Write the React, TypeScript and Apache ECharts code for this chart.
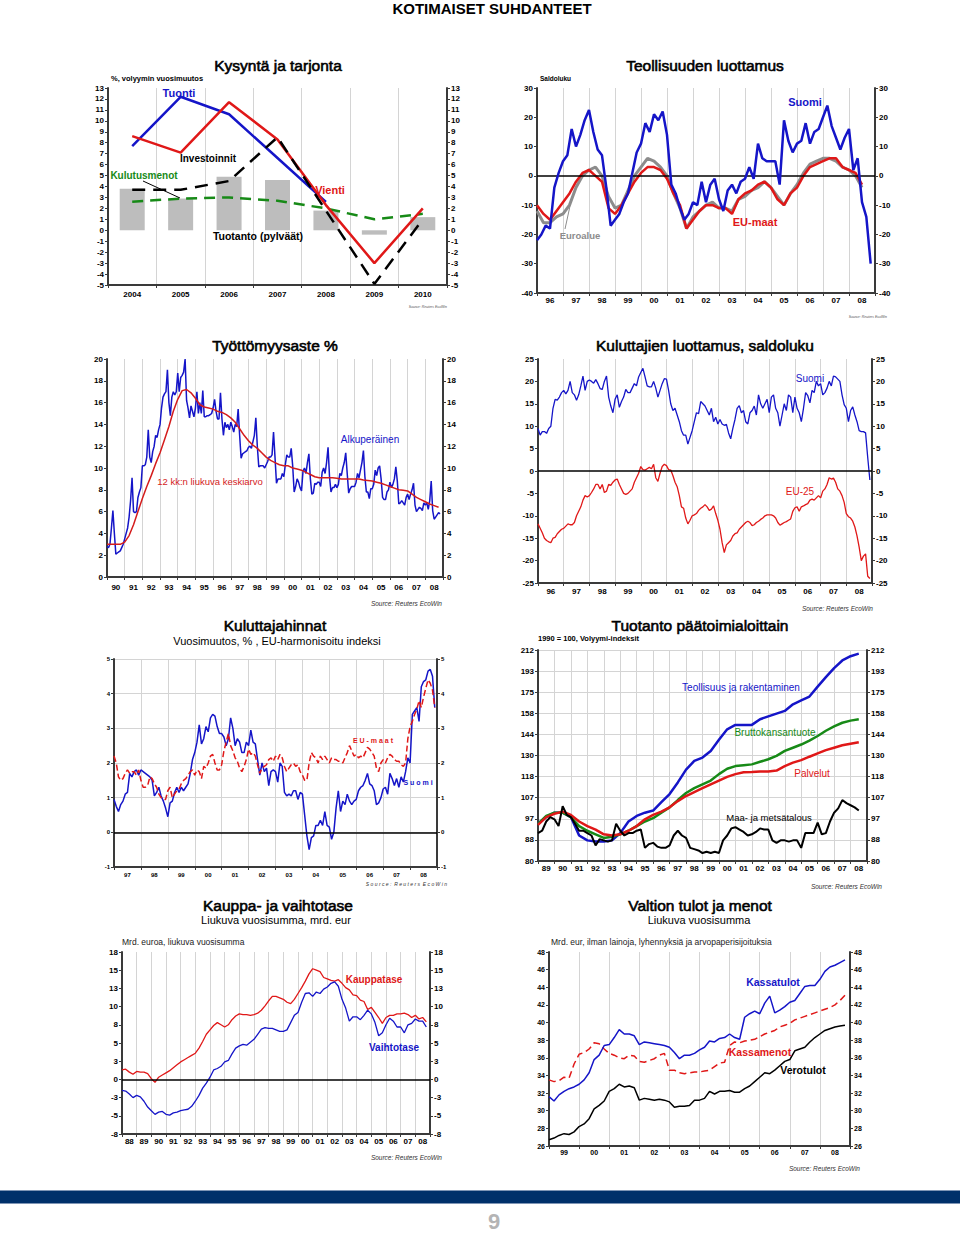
import React, { useEffect, useRef } from "react";
import * as echarts from "echarts";

const FONT = '"Liberation Sans", Arial, sans-serif';

// ---------- Panel 1: Kysyntä ja tarjonta ----------
const p1Years = ["2004", "2005", "2006", "2007", "2008", "2009", "2010"];
const p1Tuotanto = [3.8, 2.9, 4.9, 4.6, 1.8, -0.4, 1.2];
const p1Tuonti = [7.7, 12.2, 10.6, 6.6, 2.6, null, null];
const p1Vienti = [8.6, 7.1, 11.7, 8.3, 2.3, -3.0, 2.0];
const p1Investoinnit = [3.7, 3.7, 4.5, 8.5, 1.8, -4.9, 1.0];
const p1Kulutusmenot = [2.6, 2.9, 3.0, 2.7, 2.0, 1.0, 1.5];

// ---------- Panel 2: Teollisuuden luottamus (1996-, bi-monthly / quarterly) ----------
const p2Labels = ["96", "97", "98", "99", "00", "01", "02", "03", "04", "05", "06", "07", "08"];
const p2Suomi = [
  -22, -20, -17, -18, -4, 1,
  5, 7, 16, 10, 14, 19,
  22.5, 15, 9, 7, -4, -17,
  -15, -13, -9, -6, 1, 8,
  11, 18, 15, 21, 19, 22,
  14, -3, -6, -11, -15, -13,
  -9, -10, -2, -9, -3, -1,
  -8, -12, -5, -3, -6, -2,
  -1, 3, -1, 11, 6, 5,
  5, 5, -3, 19, 12, 8,
  11, 12, 18, 11, 15, 16,
  20, 24, 17, 13, 9, 13,
  16, 2, 6, -9, -14, -30,
];
const p2EU = [
  -10, -13, -15, -12,
  -9, -6, -2, 1,
  2, 0, -2, -11,
  -13, -10, -6, -2,
  1, 3, 3, 2,
  -1, -6, -10, -18,
  -15, -12, -10, -10,
  -11, -11, -13, -8,
  -6, -5, -3, -2,
  -4, -8, -10, -6,
  -4, 0, 3, 4,
  5, 6, 6, 3,
  2, 1, -3,
];
const p2Euro = [
  -12, -16, -16, -14,
  -13, -10, -4, 0,
  2, 3, 0, -7,
  -11, -10, -5, 0,
  3, 6, 5, 3,
  0, -6, -11, -18,
  -14, -12, -10, -9,
  -11, -11, -12, -8,
  -7, -5, -4, -2,
  -4, -7, -10, -6,
  -3, 1, 4, 5,
  6, 6, 5, 3,
  2, 0, -4,
];

// ---------- Panel 3: Työttömyysaste (1990-, monthly / quarterly) ----------
const p3Labels = ["90", "91", "92", "93", "94", "95", "96", "97", "98", "99", "00", "01", "02", "03", "04", "05", "06", "07", "08"];
const p3Alkup = [
  2.8, 2.7, 3.0, 4.5, 6.1, 4.0, 2.1, 2.2, 2.3, 2.4, 2.7, 3.0,
  3.5, 4.0, 4.5, 5.5, 7.0, 9.1, 6.0, 5.9, 6.0, 7.3, 7.8, 8.2,
  10.2, 10.2, 10.3, 11.0, 13.5, 11.0, 10.5, 11.5, 12.0, 13.0, 12.8, 13.5,
  14.0, 15.5, 16.5, 16.8, 17.0, 19.0, 16.0, 14.8, 16.5, 17.0, 16.7, 17.0,
  18.7, 17.0, 18.3, 18.5, 18.8, 20.0, 16.2, 15.5, 14.6, 15.7, 15.2, 14.7,
  15.5, 17.0, 15.0, 16.0, 15.0, 17.1, 14.7, 14.7, 14.8, 14.8, 14.9, 15.0,
  15.5, 16.3, 15.2, 14.5, 14.5, 16.9, 14.5, 13.0, 14.2, 13.7, 14.0, 13.5,
  14.2, 13.8, 13.3, 14.0, 13.8, 15.4, 13.0, 10.9, 11.3, 11.4, 11.5, 11.6,
  11.9, 12.0, 11.8, 12.4, 13.0, 14.6, 12.0, 10.1, 10.2, 10.2, 10.2, 10.0,
  10.3, 10.6, 11.0, 11.0, 11.2, 13.3, 11.0, 8.6, 9.0, 9.0, 9.0, 9.5,
  9.2, 10.3, 11.2, 11.0, 11.0, 11.8, 10.2, 7.8, 8.3, 9.0, 8.7, 8.2,
  7.9, 9.7, 10.0, 9.5, 10.5, 11.3, 9.0, 7.6, 7.7, 8.6, 8.5, 8.7,
  8.7, 8.3, 9.6, 10.0, 9.5, 10.5, 11.9, 9.2, 7.8, 8.2, 8.2, 8.5,
  8.2, 8.5, 9.5, 9.3, 10.0, 10.5, 11.4, 9.5, 7.7, 8.1, 8.3, 8.3,
  8.3, 8.7, 9.5, 9.1, 9.8, 10.5, 11.6, 9.2, 7.8, 7.8, 7.2, 8.1,
  8.1, 8.5, 9.8, 9.3, 10.0, 10.2, 9.0, 7.3, 7.1, 7.1, 7.8, 8.0,
  8.7, 8.2, 8.5, 9.0, 10.1, 8.8, 6.7, 6.8, 7.0, 6.8, 6.6, 7.3,
  7.6, 7.1, 7.6, 8.0, 8.6, 6.6, 6.0, 6.2, 6.4, 6.3, 6.1, 6.8,
  6.6, 6.8, 6.2, 7.0, 8.8, 6.1, 5.3, 5.5, 5.7, 5.9, 5.8,
];
const p3Keskiarvo = [
  3.0, 3.0, 3.0, 3.0,
  3.2, 3.8, 4.8, 6.0,
  7.2, 8.3, 9.3, 10.4,
  11.4, 12.6, 13.8, 15.2,
  16.3, 17.1, 17.2, 16.9,
  16.4, 15.8, 15.6, 15.5,
  15.4, 15.2, 15.1, 14.9,
  14.6, 14.2, 13.6, 13.0,
  12.5, 12.1, 11.8, 11.4,
  11.0, 10.7, 10.5, 10.3,
  10.2, 10.2, 10.0, 9.9,
  9.8, 9.6, 9.4, 9.2,
  9.1, 9.1, 9.1, 9.1,
  9.05, 9.0, 9.0, 9.0,
  9.0, 9.0, 8.9, 8.85,
  8.8, 8.7, 8.6, 8.45,
  8.3, 8.15, 8.0, 7.95,
  7.9, 7.6, 7.3, 7.1,
  6.9, 6.7, 6.55, 6.4,
];

// ---------- Panel 4: Kuluttajien luottamus (1996-, monthly) ----------
const p4Labels = ["96", "97", "98", "99", "00", "01", "02", "03", "04", "05", "06", "07", "08"];
const p4Suomi = [
  9.5, 8.0, 8.8, 8.8, 8.4, 9.5, 10.0, 14.0, 16.0, 15.8, 16.5, 17.5,
  18.0, 17.2, 18.0, 20.0, 17.5, 17.0, 15.8, 17.0, 19.0, 21.2, 18.0, 20.0,
  20.3, 20.0, 19.6, 20.4, 19.5, 18.4, 18.2, 20.0, 21.2, 16.5, 14.5, 13.0,
  16.0, 17.0, 14.2, 15.5, 16.5, 18.2, 17.5, 17.5, 18.5, 19.5, 19.0, 21.0,
  22.0, 22.9, 21.0, 19.0, 18.8, 18.8, 20.0, 18.5, 16.5, 18.0, 19.5, 20.6,
  20.5, 18.0, 15.0, 13.5, 14.0, 12.5, 11.0, 9.0, 8.0, 8.0, 6.0, 7.5,
  9.0, 11.0, 13.0, 12.8, 15.5, 15.0, 14.5, 13.5, 12.5, 14.0, 11.0, 12.0,
  10.5, 11.5, 10.5, 10.2, 10.4, 8.5, 7.2, 9.5, 11.5, 14.0, 14.6, 13.0,
  13.5, 11.0, 10.5, 13.0, 13.5, 14.5, 12.5, 17.0, 15.0, 14.0, 15.0, 16.0,
  13.0, 16.5, 17.0, 14.0, 13.0, 10.0, 12.5, 15.0, 13.5, 17.0, 16.5, 13.0,
  16.5, 14.0, 13.0, 11.0, 14.0, 17.5, 16.8, 15.2, 18.0, 17.5, 20.0, 19.0,
  19.5, 17.0, 17.5, 18.5, 20.0, 19.0, 21.2, 21.0, 20.5, 20.0, 17.0, 14.8,
  14.0, 11.0, 13.5, 14.3, 12.5, 11.0, 9.0, 8.8, 8.8, 8.5, 3.0, -2.0,
];
const p4EU25 = [
  -11.8, -12.8, -13.8, -15.0, -15.5, -15.8, -16.0, -15.0, -14.8, -14.0, -13.5, -13.0,
  -12.8, -12.3, -11.8, -12.0, -12.0, -11.5, -10.0, -9.0, -8.0, -6.5, -5.5, -5.8,
  -5.5, -4.8, -4.0, -3.0, -3.0, -4.0, -3.0, -4.8, -4.5, -3.0, -3.2, -2.5,
  -2.0, -1.8, -3.0, -4.0, -5.0, -5.2, -5.0, -4.5, -4.0, -2.5, -1.5, -0.5,
  1.0, 0.3, 0.2, 0.5, 0.8, 0.5, 1.5, -1.5, -2.3, -0.5, 1.0, 1.5,
  1.2, 0.3, 0.2, -1.0, -2.5, -3.5, -5.5, -8.0, -8.3, -10.5, -11.8, -11.0,
  -10.0, -9.8, -9.5, -8.8, -8.3, -8.0, -7.5, -8.0, -8.8, -8.5, -7.8, -9.5,
  -11.0, -13.0, -16.0, -18.2, -16.5, -16.0, -15.5, -14.5, -14.0, -13.8, -13.0, -12.5,
  -12.0, -11.5, -11.2, -11.5, -12.2, -12.0, -11.5, -11.2, -10.8, -10.5, -10.0, -9.8,
  -9.8, -9.8, -10.0, -10.5, -11.5, -12.1, -11.8, -11.5, -11.3, -11.0, -10.7, -9.0,
  -8.2, -8.0, -9.0, -8.0, -7.8, -7.5, -7.3, -6.5, -6.3, -6.5, -6.0, -5.5,
  -6.0, -4.5, -4.0, -3.0, -1.5, -1.8, -1.6, -2.5, -4.0, -4.5, -5.5, -7.0,
  -9.5, -10.2, -10.5, -11.2, -12.5, -14.5, -17.0, -20.0, -19.0, -18.5, -23.5, -24.0,
];

// ---------- Panel 5: Kuluttajahinnat (1997-, monthly) ----------
const p5Labels = ["97", "98", "99", "00", "01", "02", "03", "04", "05", "06", "07", "08"];
const p5Suomi = [
  0.95, 0.75, 0.6, 0.8, 0.9, 1.1, 1.15, 1.7, 1.6, 1.75, 1.8, 1.65,
  1.8, 1.75, 1.7, 1.65, 1.6, 1.5, 1.05, 1.15, 1.3, 1.05, 0.9, 0.7,
  0.45, 0.85, 0.9, 1.15, 1.3, 1.15, 1.3, 1.2, 1.3, 1.4, 1.7, 2.1,
  2.3, 2.6, 3.1, 2.55, 2.7, 3.05, 2.9, 3.3, 3.4, 3.35, 3.05, 2.85,
  2.85, 2.75, 2.5, 2.7, 3.3, 3.0, 2.5, 2.7, 2.6, 2.3, 2.3, 2.6,
  2.5, 2.95, 2.6, 2.55, 2.1, 1.65, 2.0, 1.75, 1.85, 1.35, 1.75, 1.8,
  1.75, 1.45, 2.0, 1.9, 1.15, 1.05, 1.1, 1.05, 1.2, 1.2, 0.95, 1.15,
  1.1, 0.5, -0.1, -0.5, -0.15, -0.1, 0.2, 0.2, 0.35, 0.2, 0.6, 0.2,
  0.15, -0.2, 0.0, 0.7, 1.2, 0.6, 0.9, 0.8, 1.1, 0.9, 0.8, 0.9,
  0.95, 1.2, 1.3, 1.35, 1.5, 1.7, 1.4, 1.35, 1.2, 0.8, 0.85, 1.0,
  1.25, 1.3, 1.1, 1.7, 1.55, 1.35, 1.55, 1.3, 1.6, 1.45, 1.75, 2.15,
  2.0, 3.4, 3.5, 3.6, 3.2, 4.2, 4.35, 4.4, 4.65, 4.7, 4.5, 3.6,
];
const p5EU = [
  2.2, 2.0, 1.6, 1.5, 1.55, 1.7, 1.8, 1.7, 1.75, 1.75, 1.65, 1.8,
  1.5, 1.3, 1.3, 1.35, 1.6, 1.55, 1.4, 1.3, 1.1, 1.0, 0.95, 0.95,
  1.2, 1.3, 1.0, 1.1, 1.2, 1.25, 1.4, 1.5, 1.55, 1.65, 1.75, 1.8,
  1.65, 1.8, 1.75, 1.55, 1.9, 1.85, 2.0, 2.2, 2.25, 2.0, 1.8, 1.8,
  1.95, 2.35, 2.6, 2.85, 2.5, 2.35, 2.15, 2.05, 1.85, 1.75, 1.9, 2.1,
  2.4, 2.25, 2.3, 2.2, 1.95, 1.7, 1.85, 1.9, 1.95, 2.1, 2.15, 2.05,
  2.2, 2.1, 2.25, 2.15, 1.9, 1.75, 1.85, 1.95, 2.0, 1.9, 1.95, 1.75,
  1.65, 1.5, 1.5, 2.0, 2.3, 2.2, 2.15, 2.0, 2.2, 2.1, 2.2, 2.1,
  2.0, 2.15, 2.1, 2.1, 2.05, 2.05, 2.0, 2.15, 2.3, 2.5, 2.35, 2.2,
  2.25, 2.15, 2.2, 2.15, 2.3, 2.45, 2.4, 2.3, 2.2, 1.85, 1.75, 2.0,
  2.1, 2.0, 2.15, 2.25, 2.2, 2.1, 2.05, 2.05, 1.95, 1.9, 2.0, 2.7,
  3.05, 3.2, 3.4, 3.55, 3.8, 3.6, 3.9, 4.15, 4.4, 4.3, 4.1, 3.6,
];

// ---------- Panel 6: Tuotanto päätoimialoittain (1989-, half-yearly / quarterly) ----------
const p6Labels = ["89", "90", "91", "92", "93", "94", "95", "96", "97", "98", "99", "00", "01", "02", "03", "04", "05", "06", "07", "08"];
const p6Ticks = ["80", "88", "97", "107", "118", "130", "144", "158", "175", "193", "212"];
const p6Teollisuus = [
  95, 98, 100, 100, 98, 90, 88, 87.5, 87.5, 88, 91, 96, 98.5, 100, 101, 105, 109, 115, 122, 127,
  129, 133, 140, 147, 150, 150, 150, 154, 156, 158, 160, 165, 168, 171, 179, 187, 195, 202, 206, 208.5,
];
const p6BKT = [
  95, 98.5, 100, 100, 98, 94, 92, 90.5, 89, 89.5, 90.5, 92, 94, 96, 97.5, 100, 102.5, 106, 109.5, 112,
  114, 116, 119.5, 122.5, 124, 124.5, 125, 126.5, 128, 130, 133, 135, 137, 139.5, 142.5, 146, 149, 151.5, 153, 154,
];
const p6Palvelut = [
  94.5, 98, 99.5, 100.5, 99, 96, 94, 92.5, 90.5, 90, 90.5, 92, 94, 97, 99, 100.5, 102.5, 105.5, 108, 110,
  112, 114, 116, 118, 119.5, 120.5, 120.7, 121, 121, 121.5, 124, 126, 127.5, 129.5, 131.5, 133.5, 135, 136.5, 137.5, 138.5,
];
const p6Maa = [
  91, 92, 96, 98,
  97, 94, 103, 99,
  98, 95, 92, 92,
  91, 90, 86, 88.5,
  88, 87.5, 88, 95,
  92, 90, 91, 91,
  92, 92.5, 85, 86.5,
  87, 85.5, 85, 85,
  86, 90, 92, 90,
  89, 85, 84.5, 84,
  83, 83.5, 83, 83.5,
  83, 88, 90, 93,
  93.5, 92.5, 91.5, 90,
  90.5, 91.5, 93, 92.5,
  92.5, 88, 87, 88,
  88, 87.5, 88, 88,
  85, 91, 91, 91,
  95.5, 90.5, 91, 96,
  100, 102, 106, 104.5,
  103.5, 102.5, 101,
];

// ---------- Panel 7: Kauppa- ja vaihtotase (1988-, quarterly) ----------
const p7Labels = ["88", "89", "90", "91", "92", "93", "94", "95", "96", "97", "98", "99", "00", "01", "02", "03", "04", "05", "06", "07", "08"];
const p7Kauppatase = [
  1.3, 1.4, 1.0, 0.7,
  1.1, 1.0, 1.0, 0.8,
  0.1, -0.4, 0.3, 0.6,
  0.9, 1.2, 1.6, 2.0,
  2.4, 2.7, 3.0, 3.3,
  3.6, 4.3, 5.2, 6.2,
  6.8, 7.4, 7.8, 7.5,
  7.2, 7.5, 8.2, 8.7,
  9.0, 8.9, 8.9, 8.8,
  8.9, 9.1, 9.5, 10.1,
  10.8, 11.4, 11.4, 11.2,
  11.0, 10.6, 10.4, 11.0,
  11.8, 12.6, 13.5, 14.5,
  15.2, 15.0, 14.8, 14.0,
  13.8, 13.6, 13.5, 13.7,
  13.2, 12.6, 12.3, 11.6,
  11.5, 10.9, 10.7, 9.6,
  9.9, 9.2, 8.5, 7.7,
  8.5, 8.8, 8.8, 9.0,
  9.0, 9.1, 8.9, 8.5,
  8.8, 8.3, 8.5, 7.9,
];
const p7Vaihtotase = [
  -1.5, -1.6, -2.0, -2.5,
  -2.2, -2.4, -3.0, -3.8,
  -4.3, -4.8, -4.5, -4.4,
  -4.8, -4.9, -4.6, -4.5,
  -4.3, -4.2, -4.1, -3.7,
  -3.0, -2.2, -1.2, -0.5,
  0.3, 1.3, 1.5, 1.8,
  2.4, 2.6, 3.5, 4.3,
  4.6, 4.8, 4.7, 5.1,
  5.5, 6.2, 6.9, 7.1,
  7.0, 7.0, 6.8, 6.6,
  6.6, 6.8, 7.8, 8.8,
  9.2, 10.6, 11.8, 11.9,
  11.4, 12.0, 11.8, 12.4,
  12.7, 13.2, 13.4, 12.8,
  11.0, 9.8, 8.0, 8.6,
  8.6, 8.2, 8.8, 9.5,
  9.0, 7.8, 6.0, 6.4,
  7.5, 8.4, 8.0, 7.2,
  7.2, 6.4, 7.5, 7.7,
  8.3, 8.0, 8.0, 7.2,
];

// ---------- Panel 8: Valtion tulot ja menot (1999-, bi-monthly) ----------
const p8Labels = ["99", "00", "01", "02", "03", "04", "05", "06", "07", "08"];
const p8Kassatulot = [
  31.6, 31.1, 31.8, 32.2, 32.5, 32.7,
  33.0, 33.5, 34.3, 35.8, 36.3, 37.4,
  37.5, 38.3, 39.2, 38.7, 38.7, 38.5,
  37.5, 37.8, 37.7, 37.6, 37.5, 37.4,
  37.2, 36.6, 35.9, 36.3, 36.3, 36.5,
  36.9, 37.2, 37.9, 37.8, 38.2, 38.3,
  38.7, 38.3, 38.1, 40.6, 41.0, 41.3,
  41.0, 42.2, 43.0, 41.1, 41.4, 41.8,
  42.3, 42.5, 43.3, 44.1, 44.2, 44.2,
  44.9, 45.8, 46.3, 46.5, 46.8, 47.1,
];
const p8Kassamenot = [
  33.5, 33.3, 33.4, 33.8, 33.7, 35.3,
  36.4, 36.6, 37.0, 37.7, 37.6, 37.0,
  36.5, 36.3, 36.0, 35.9, 36.3, 36.2,
  35.6, 35.5, 35.7, 35.9, 36.3, 36.5,
  34.6, 34.6, 34.3, 34.2, 34.3, 34.4,
  34.4, 34.5, 34.6, 35.0, 35.4, 35.5,
  37.4, 37.8, 37.7, 37.9, 38.0, 38.1,
  38.4, 38.7, 38.9, 39.1, 39.5, 39.7,
  39.9, 40.3, 40.5, 40.7, 40.9, 41.1,
  41.3, 41.5, 41.7, 42.0, 42.5, 43.1,
];
const p8Verotulot = [
  26.7, 26.9, 27.2, 27.4, 27.3, 27.6,
  28.2, 28.5, 29.1, 30.2, 30.6, 31.1,
  32.2, 32.5, 33.0, 32.7, 32.8, 32.6,
  31.2, 31.4, 31.3, 31.2, 31.3, 31.2,
  31.0, 30.4, 30.5, 30.5, 30.6, 31.2,
  31.2, 31.4, 32.2, 31.9, 32.2, 32.2,
  32.3, 32.1, 32.1, 32.5, 32.8, 33.3,
  33.8, 34.3, 34.2, 34.6, 35.1, 35.6,
  35.8, 36.8, 37.0, 37.2, 37.8, 38.3,
  38.7, 39.1, 39.3, 39.5, 39.6, 39.7,
];

// ---------- helpers ----------
const ts = (start: number, perYear: number, vals: number[]) =>
  vals.map((v, i) => [start + i / perYear, v]);
const p6Scale = (v: number) => (10 * Math.log(v / 80)) / Math.log(212 / 80);
const p6ts = (start: number, perYear: number, vals: number[]) =>
  vals.map((v, i) => [start + i / perYear, p6Scale(v)]);
const roundAway = (v: number) => String(Math.sign(v) * Math.round(Math.abs(v)));

const BLUE = "#1515c8";
const RED = "#e01818";
const GREEN = "#178a17";
const GRAY = "#8c8c8c";
const AXC = "#3a3a3a";
const GRID = "#d4d4d4";

function buildOption() {
  const grid: any[] = [];
  const xAxis: any[] = [];
  const yAxis: any[] = [];
  const series: any[] = [];
  const els: any[] = [];

  const tf = (fs: number) => ({ fontFamily: FONT, fontSize: fs, fontWeight: "bold", color: "#000" });

  function yAxes(gi: number, s: any) {
    const base: any = {
      type: "value", gridIndex: gi, min: s.yMin, max: s.yMax, interval: s.yInt,
      axisLine: { show: true, lineStyle: { color: AXC, width: 2 } },
      axisTick: { show: true, length: 3, lineStyle: { color: AXC, width: 1 } },
      axisLabel: { ...tf(s.fs), margin: 4 },
    };
    if (s.yFmt) base.axisLabel.formatter = s.yFmt;
    const yi = yAxis.length;
    yAxis.push({ ...base, position: "left", splitLine: { show: !!s.hGrid, lineStyle: { color: GRID, width: 1 } } });
    yAxis.push({ ...base, position: "right", splitLine: { show: false } });
    return yi;
  }

  function panel(s: any) {
    const gi = grid.length;
    grid.push({ left: s.left, top: s.top, width: s.width, height: s.height });
    const xi = xAxis.length;
    xAxis.push({
      type: "value", gridIndex: gi, min: s.xMin, max: s.xMax, interval: 1,
      axisLine: { show: true, onZero: false, lineStyle: { color: AXC, width: 2 } },
      axisTick: { show: true, length: 3, lineStyle: { color: AXC, width: 1 } },
      axisLabel: { show: false },
      splitLine: { show: true, lineStyle: { color: GRID, width: 1 } },
    });
    xAxis.push({
      type: "category", gridIndex: gi, data: s.years, boundaryGap: true, position: "bottom",
      axisLine: { show: false, onZero: false }, axisTick: { show: false }, splitLine: { show: false },
      axisLabel: { ...tf(s.fs), margin: s.xm, interval: 0 },
    });
    const yi = yAxes(gi, s);
    return { xi, yi };
  }

  function line(ax: any, data: any[], color: string, width: number, type: any = "solid", z = 3, extra: any = {}) {
    series.push({
      type: "line", xAxisIndex: ax.xi, yAxisIndex: ax.yi, data, showSymbol: false, symbol: "none",
      silent: true, z, lineStyle: { color, width, type }, ...extra,
    });
  }
  const zeroLine = {
    markLine: {
      silent: true, symbol: ["none", "none"], label: { show: false },
      lineStyle: { color: "#000", width: 1.5, type: "solid" }, data: [{ yAxis: 0 }],
    },
  };

  const text = (x: number, y: number, t: string, o: any = {}) => {
    const font = `${o.italic ? "italic " : ""}${o.bold ? "bold " : ""}${o.size || 10}px ${FONT}`;
    const style: any = {
      text: t, fill: o.color || "#000", font,
      textAlign: o.align || "center", textVerticalAlign: "middle",
      align: o.align || "center", verticalAlign: "middle",
    };
    if (o.heavy) { style.stroke = o.color || "#000"; style.lineWidth = o.heavy; }
    els.push({ type: "text", x, y, silent: true, z: 100, style });
  };
  const title = (x: number, y: number, t: string) => text(x, y, t, { size: 15.5, heavy: 0.6 });
  const seg = (x1: number, y1: number, x2: number, y2: number, color: string) =>
    els.push({ type: "line", silent: true, z: 100, shape: { x1, y1, x2, y2 }, style: { stroke: color, lineWidth: 1 } });

  // ===== Panel 1 =====
  {
    const gi = grid.length;
    grid.push({ left: 108, top: 88, width: 339, height: 197 });
    const xi = xAxis.length;
    xAxis.push({
      type: "category", gridIndex: gi, data: p1Years, boundaryGap: true,
      axisLine: { show: true, onZero: false, lineStyle: { color: AXC, width: 2 } },
      axisTick: { show: true, length: 3, lineStyle: { color: AXC } },
      axisLabel: { ...tf(8), margin: 5, interval: 0 },
      splitLine: { show: true, lineStyle: { color: GRID, width: 1 } },
    });
    const yi = yAxes(gi, { yMin: -5, yMax: 13, yInt: 1, fs: 8 });
    const ax = { xi, yi };
    series.push({ type: "bar", xAxisIndex: xi, yAxisIndex: yi, data: p1Tuotanto, barWidth: 25, silent: true, z: 1, itemStyle: { color: "#bdbdbd" } });
    line(ax, p1Kulutusmenot, GREEN, 2.5, [11, 7], 3);
    line(ax, p1Tuonti, BLUE, 2.5, "solid", 4);
    line(ax, p1Vienti, RED, 2.5, "solid", 5);
    line(ax, p1Investoinnit, "#000", 2.5, [13, 8], 6);
  }
  // ===== Panel 2 =====
  {
    const ax = panel({ left: 537, top: 88, width: 338, height: 205, xMin: 1996, xMax: 2009, years: p2Labels, yMin: -40, yMax: 30, yInt: 10, fs: 8, xm: 3 });
    line(ax, ts(1996, 4, p2Euro), GRAY, 3, "solid", 3, zeroLine);
    line(ax, ts(1996, 4, p2EU), RED, 2.5, "solid", 4);
    line(ax, ts(1996, 6, p2Suomi), BLUE, 2.5, "solid", 5);
  }
  // ===== Panel 3 =====
  {
    const ax = panel({ left: 107, top: 359, width: 336, height: 218, xMin: 1990, xMax: 2009, years: p3Labels, yMin: 0, yMax: 20, yInt: 2, fs: 8, xm: 6 });
    line(ax, ts(1990, 12, p3Alkup), BLUE, 1.5, "solid", 3);
    line(ax, ts(1990, 4, p3Keskiarvo), "#d41c1c", 1.5, "solid", 4);
  }
  // ===== Panel 4 =====
  {
    const ax = panel({ left: 538, top: 359, width: 334, height: 224, xMin: 1996, xMax: 2009, years: p4Labels, yMin: -25, yMax: 25, yInt: 5, fs: 8, xm: 4 });
    line(ax, ts(1996, 12, p4Suomi), BLUE, 1.3, "solid", 3, zeroLine);
    line(ax, ts(1996, 12, p4EU25), RED, 1.3, "solid", 4);
  }
  // ===== Panel 5 =====
  {
    const ax = panel({ left: 114, top: 659, width: 323, height: 208, xMin: 1997, xMax: 2009, years: p5Labels, yMin: -1, yMax: 5, yInt: 1, fs: 6, xm: 5, hGrid: true });
    line(ax, ts(1997, 12, p5Suomi), BLUE, 1.5, "solid", 3, zeroLine);
    line(ax, ts(1997, 12, p5EU), RED, 1.5, [6, 3], 4);
  }
  // ===== Panel 6 =====
  {
    const ax = panel({
      left: 538, top: 650, width: 329, height: 211, xMin: 1989, xMax: 2009, years: p6Labels,
      yMin: 0, yMax: 10, yInt: 1, fs: 8, xm: 3, hGrid: true,
      yFmt: (v: number) => p6Ticks[Math.round(v)] ?? "",
    });
    line(ax, p6ts(1989, 2, p6Teollisuus), BLUE, 2.5, "solid", 3);
    line(ax, p6ts(1989, 2, p6BKT), GREEN, 2.5, "solid", 4);
    line(ax, p6ts(1989, 2, p6Palvelut), RED, 2.5, "solid", 5);
    line(ax, p6ts(1989, 4, p6Maa), "#000", 2, "solid", 6);
  }
  // ===== Panel 7 =====
  {
    const ax = panel({
      left: 122, top: 952, width: 308, height: 182, xMin: 1988, xMax: 2009, years: p7Labels,
      yMin: -7.5, yMax: 17.5, yInt: 2.5, fs: 8, xm: 3, yFmt: roundAway,
    });
    line(ax, ts(1988, 4, p7Kauppatase), RED, 1.3, "solid", 3, zeroLine);
    line(ax, ts(1988, 4, p7Vaihtotase), BLUE, 1.3, "solid", 4);
  }
  // ===== Panel 8 =====
  {
    const ax = panel({ left: 549, top: 952, width: 301, height: 194, xMin: 1999, xMax: 2009, years: p8Labels, yMin: 26, yMax: 48, yInt: 2, fs: 7, xm: 3 });
    line(ax, ts(1999, 6, p8Kassamenot), RED, 1.5, [7, 4], 3);
    line(ax, ts(1999, 6, p8Verotulot), "#000", 1.5, "solid", 4);
    line(ax, ts(1999, 6, p8Kassatulot), BLUE, 1.5, "solid", 5);
  }

  // ===== texts =====
  text(492, 8, "KOTIMAISET SUHDANTEET", { bold: true, size: 15 });

  title(278, 65, "Kysyntä ja tarjonta");
  text(111, 78, "%, volyymin vuosimuutos", { bold: true, size: 7.5, align: "left" });
  text(179, 93, "Tuonti", { bold: true, size: 11, color: BLUE });
  text(208, 158, "Investoinnit", { bold: true, size: 10 });
  text(144, 175, "Kulutusmenot", { bold: true, size: 10, color: GREEN });
  seg(143, 181, 180, 198, "#000");
  text(330, 190, "Vienti", { bold: true, size: 11, color: RED });
  text(258, 236, "Tuotanto (pylväät)", { bold: true, size: 10.5 });
  text(447, 307, "Source: Reuters EcoWin", { italic: true, size: 3.5, align: "right", color: "#555" });

  title(705, 65, "Teollisuuden luottamus");
  text(540, 78, "Saldoluku", { bold: true, size: 6.5, align: "left" });
  text(805, 102, "Suomi", { bold: true, size: 11, color: BLUE });
  text(755, 222, "EU-maat", { bold: true, size: 11, color: RED });
  text(580, 235, "Euroalue", { bold: true, size: 9.5, color: GRAY });
  seg(570, 206, 565, 229, GRAY);
  text(887, 317, "Source: Reuters EcoWin", { italic: true, size: 3.5, align: "right", color: "#555" });

  title(275, 345, "Työttömyysaste %");
  text(370, 439, "Alkuperäinen", { size: 10, color: BLUE });
  text(210, 481, "12 kk:n liukuva keskiarvo", { size: 9.5, color: "#d41c1c" });
  text(442, 603, "Source: Reuters EcoWin", { italic: true, size: 6.5, align: "right", color: "#333" });

  title(705, 345, "Kuluttajien luottamus, saldoluku");
  text(810, 378, "Suomi", { size: 10, color: BLUE });
  text(800, 491, "EU-25", { size: 10, color: RED });
  text(873, 608, "Source: Reuters EcoWin", { italic: true, size: 6.5, align: "right", color: "#333" });

  title(275, 625, "Kuluttajahinnat");
  text(277, 641, "Vuosimuutos, % , EU-harmonisoitu indeksi", { size: 11 });
  text(373, 740, "E U - m a a t", { bold: true, size: 7, color: RED });
  text(418, 782, "S u o m i", { bold: true, size: 7, color: BLUE });
  text(447, 884, "S o u r c e :  R e u t e r s  E c o W i n", { italic: true, size: 5, align: "right", color: "#333" });

  title(700, 625, "Tuotanto päätoimialoittain");
  text(538, 638, "1990 = 100, Volyymi-indeksit", { bold: true, size: 7.5, align: "left" });
  text(741, 687, "Teollisuus ja rakentaminen", { size: 10, color: BLUE });
  text(775, 732, "Bruttokansantuote", { size: 10, color: GREEN });
  text(812, 773, "Palvelut", { size: 10, color: RED });
  text(769, 817, "Maa- ja metsätalous", { size: 9.5 });
  text(882, 886, "Source: Reuters EcoWin", { italic: true, size: 6.5, align: "right", color: "#333" });

  title(278, 905, "Kauppa- ja vaihtotase");
  text(276, 920, "Liukuva vuosisumma, mrd. eur", { size: 11 });
  text(122, 942, "Mrd. euroa, liukuva vuosisumma", { size: 8.5, align: "left", color: "#222" });
  text(374, 979, "Kauppatase", { bold: true, size: 10, color: RED });
  text(394, 1047, "Vaihtotase", { bold: true, size: 10, color: BLUE });
  text(442, 1157, "Source: Reuters EcoWin", { italic: true, size: 6.5, align: "right", color: "#333" });

  title(700, 905, "Valtion tulot ja menot");
  text(699, 920, "Liukuva vuosisumma", { size: 11 });
  text(551, 942, "Mrd. eur, ilman lainoja, lyhennyksiä ja arvopaperisijoituksia", { size: 8.5, align: "left", color: "#222" });
  text(773, 982, "Kassatulot", { bold: true, size: 10.5, color: BLUE });
  text(760, 1052, "Kassamenot", { bold: true, size: 10.5, color: RED });
  text(803, 1070, "Verotulot", { bold: true, size: 10.5 });
  text(860, 1168, "Source: Reuters EcoWin", { italic: true, size: 6.5, align: "right", color: "#333" });

  // bottom band and page number
  els.push({ type: "rect", silent: true, z: 50, shape: { x: 0, y: 1190, width: 960, height: 14 }, style: { fill: "#00306a" } });
  els.push({ type: "rect", silent: true, z: 51, shape: { x: 0, y: 1190, width: 960, height: 1 }, style: { fill: "#7f95b5" } });
  els.push({ type: "rect", silent: true, z: 51, shape: { x: 0, y: 1203, width: 960, height: 1 }, style: { fill: "#7f95b5" } });
  text(494, 1221, "9", { bold: true, size: 22, color: "#b4b4b4" });

  return {
    animation: false,
    backgroundColor: "#ffffff",
    textStyle: { fontFamily: FONT },
    grid, xAxis, yAxis, series,
    graphic: { elements: els },
  };
}

export default function App() {
  const ref = useRef<HTMLDivElement>(null);
  useEffect(() => {
    const chart = echarts.init(ref.current as HTMLDivElement, null, { renderer: "svg" });
    chart.setOption(buildOption() as any);
    return () => chart.dispose();
  }, []);
  return (
    <div
      ref={ref}
      style={{ position: "absolute", left: 0, top: 0, width: 960, height: 1236, background: "#fff" }}
    />
  );
}
